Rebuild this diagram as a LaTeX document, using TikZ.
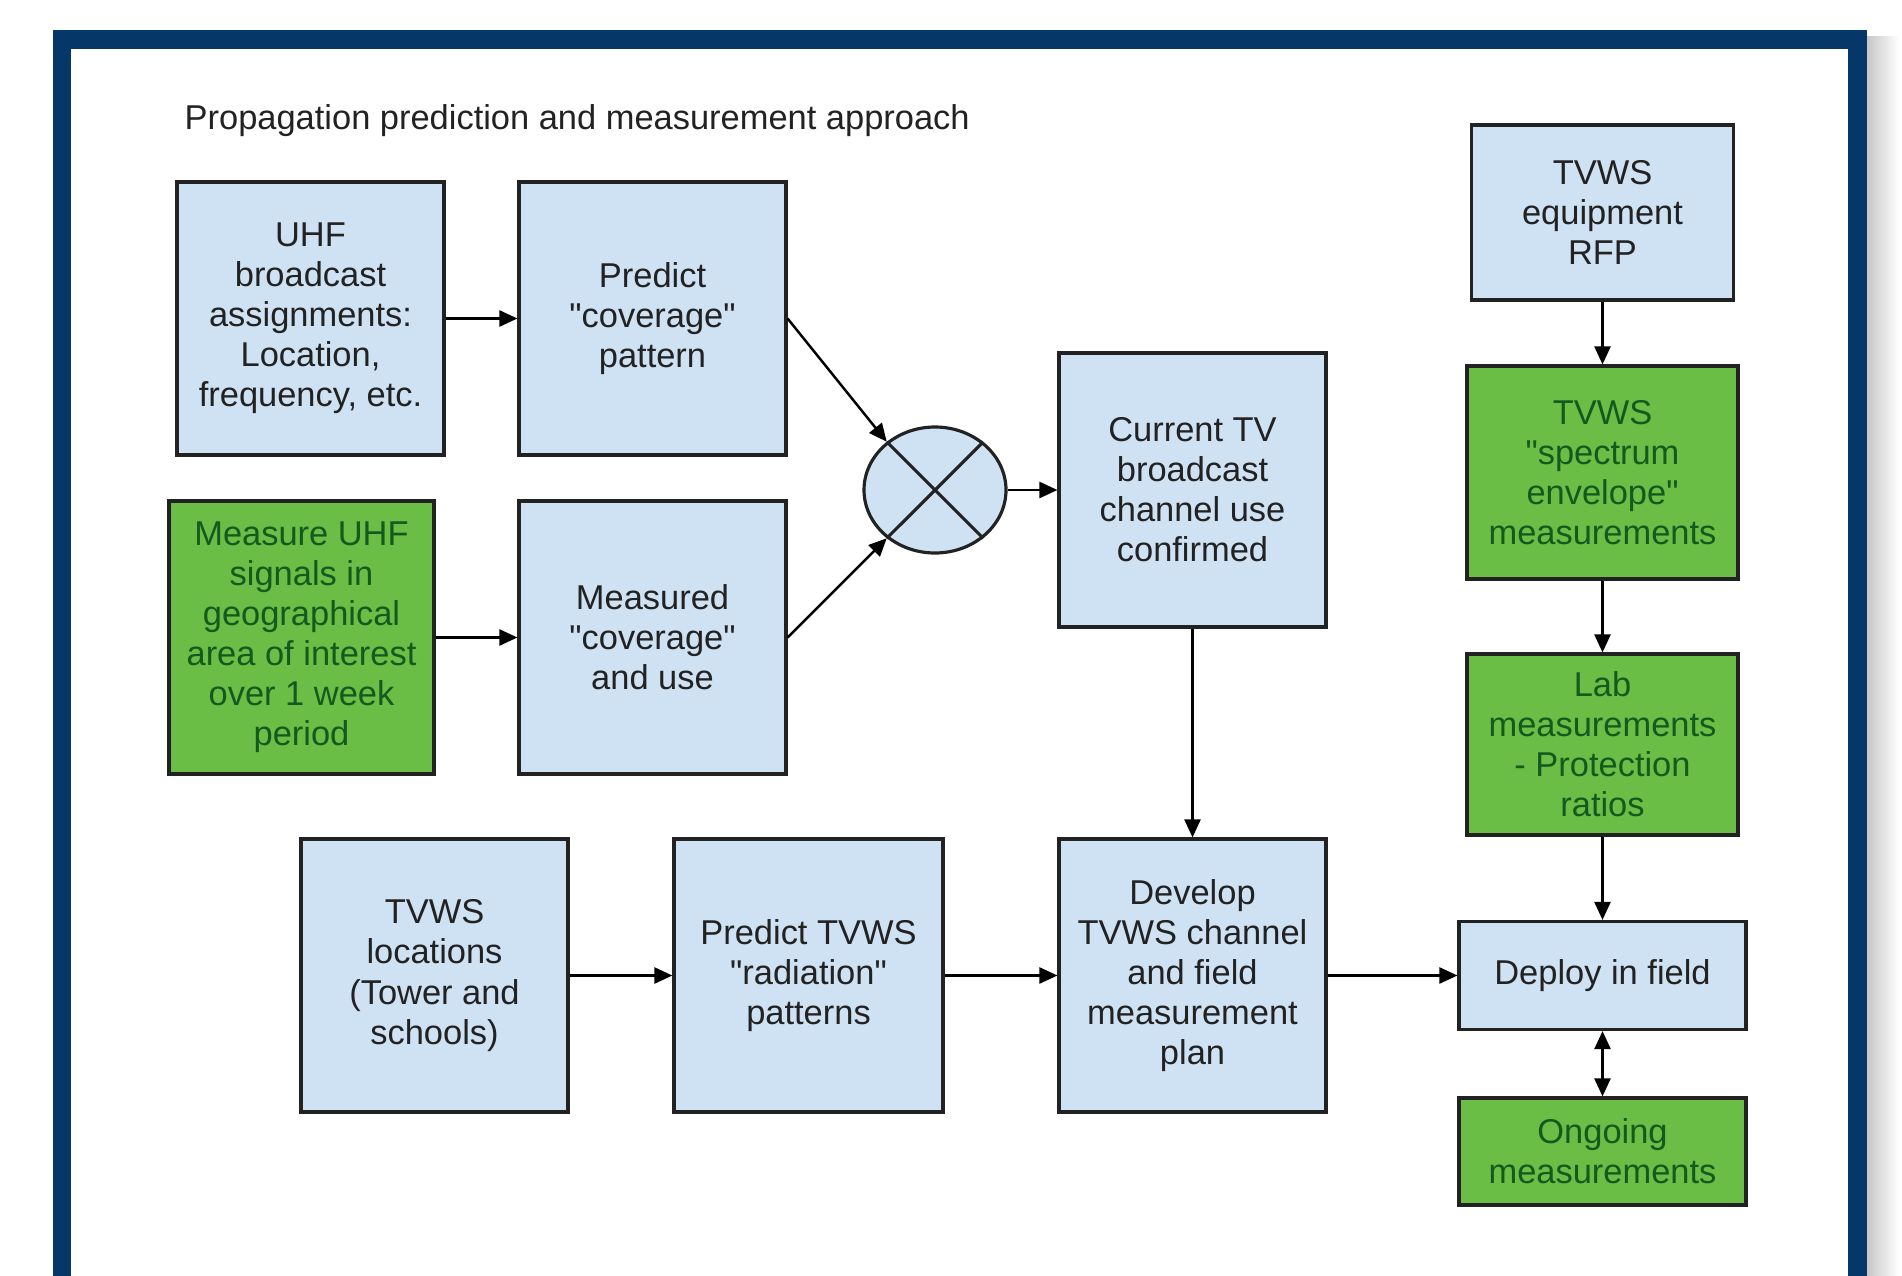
\documentclass[tikz,border=0pt]{standalone}
\usepackage{fontspec}
\setmainfont{Liberation Sans}
\usetikzlibrary{arrows.meta,shapes.geometric}
\definecolor{framenavy}{HTML}{063769}
\definecolor{boxblue}{HTML}{CFE2F3}
\definecolor{boxgreen}{HTML}{6ABD45}
\definecolor{textgreen}{HTML}{145A1E}
\definecolor{inkgray}{HTML}{222222}
\newcommand{\dq}{\textquotedbl}
\tikzset{
  box/.style={draw=inkgray, line width=0.9pt, align=center, inner sep=0pt,
    font=\fontsize{9.8}{11.4}\selectfont},
  bluebox/.style={box, fill=boxblue, text=inkgray},
  greenbox/.style={box, fill=boxgreen, text=textgreen},
  link/.style={line width=0.7pt, draw=black, -{Triangle[length=0.18cm,width=0.16cm]}},
  twoway/.style={link, {Triangle[length=0.18cm,width=0.16cm]}-{Triangle[length=0.18cm,width=0.16cm]}}
}
\begin{document}
\begin{tikzpicture}[x=1cm,y=-1cm]
\useasboundingbox (0,0) rectangle (19.02,12.76);
% frame
\fill[framenavy] (0.53,0.30) rectangle (18.67,12.80);
\fill[white] (0.71,0.49) rectangle (18.48,12.80);
\shade[left color=black!22,right color=white] (18.67,0.36) rectangle (18.99,12.80);
\node[anchor=west, inner sep=0pt, text=inkgray, font=\fontsize{9.8}{11.4}\selectfont] (title) at (1.84,1.21) {Propagation prediction and measurement approach};
% top left
\node[bluebox, minimum width=2.67cm, minimum height=2.73cm] (uhf) at (3.105,3.185) {UHF\\broadcast\\assignments:\\Location,\\frequency, etc.};
\node[bluebox, minimum width=2.67cm, minimum height=2.73cm] (predict) at (6.525,3.185) {Predict\\\dq coverage\dq\\pattern};
\node[greenbox, minimum width=2.65cm, minimum height=2.73cm] (measure) at (3.015,6.375) {Measure UHF\\signals in\\geographical\\area of interest\\over 1 week\\period};
\node[bluebox, minimum width=2.67cm, minimum height=2.73cm] (measured) at (6.525,6.375) {Measured\\\dq coverage\dq\\and use};
\node[ellipse, draw=inkgray, line width=0.9pt, fill=boxblue, inner sep=0pt, minimum width=1.42cm, minimum height=1.26cm] (mix) at (9.35,4.90) {};
\draw[draw=inkgray, line width=0.9pt] (mix.45) -- (mix.225);
\draw[draw=inkgray, line width=0.9pt] (mix.135) -- (mix.315);
\node[bluebox, minimum width=2.67cm, minimum height=2.74cm] (current) at (11.925,4.90) {Current TV\\broadcast\\channel use\\confirmed};
% bottom row
\node[bluebox, minimum width=2.67cm, minimum height=2.73cm] (locations) at (4.345,9.755) {TVWS\\locations\\(Tower and\\schools)};
\node[bluebox, minimum width=2.69cm, minimum height=2.73cm] (radiation) at (8.085,9.755) {Predict TVWS\\\dq radiation\dq\\patterns};
\node[bluebox, minimum width=2.67cm, minimum height=2.73cm] (develop) at (11.925,9.755) {Develop\\TVWS channel\\and field\\measurement\\plan};
% right column
\node[bluebox, minimum width=2.62cm, minimum height=1.75cm] (rfp) at (16.025,2.125) {TVWS\\equipment\\RFP};
\node[greenbox, minimum width=2.71cm, minimum height=2.13cm] (envelope) at (16.025,4.725) {TVWS\\\dq spectrum\\envelope\dq\\measurements};
\node[greenbox, minimum width=2.71cm, minimum height=1.81cm] (lab) at (16.025,7.445) {Lab\\measurements\\- Protection\\ratios};
\node[bluebox, minimum width=2.87cm, minimum height=1.08cm] (deploy) at (16.025,9.755) {Deploy in field};
\node[greenbox, minimum width=2.87cm, minimum height=1.07cm] (ongoing) at (16.025,11.515) {Ongoing\\measurements};
% connectors
\draw[link] (uhf) -- (predict);
\draw[link] (measure) -- (measured);
\draw[link] (predict.east) -- (mix.135);
\draw[link] (measured.east) -- (mix.225);
\draw[link] (mix) -- (current);
\draw[link] (current) -- (develop);
\draw[link] (locations) -- (radiation);
\draw[link] (radiation) -- (develop);
\draw[link] (develop) -- (deploy);
\draw[link] (rfp) -- (envelope);
\draw[link] (envelope) -- (lab);
\draw[link] (lab) -- (deploy);
\draw[twoway] (deploy) -- (ongoing);
\end{tikzpicture}
\end{document}
